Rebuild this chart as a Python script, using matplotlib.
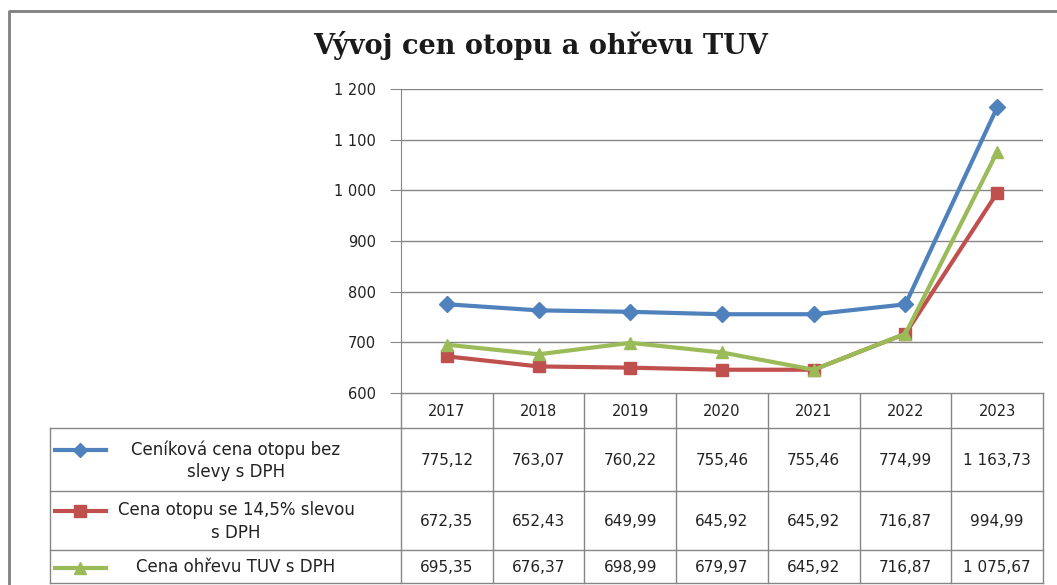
import matplotlib
matplotlib.use("Agg")
import matplotlib.pyplot as plt
from matplotlib.ticker import FuncFormatter
from matplotlib.lines import Line2D

# data
years = ["2017", "2018", "2019", "2020", "2021", "2022", "2023"]
cenik = [775.12, 763.07, 760.22, 755.46, 755.46, 774.99, 1163.73]
sleva = [672.35, 652.43, 649.99, 645.92, 645.92, 716.87, 994.99]
tuv = [695.35, 676.37, 698.99, 679.97, 645.92, 716.87, 1075.67]
labels = ["Ceníková cena otopu bez\nslevy s DPH",
          "Cena otopu se 14,5% slevou\ns DPH",
          "Cena ohřevu TUV s DPH"]
colors = ["#4F81BD", "#C0504D", "#9BBB59"]
markers = ["D", "s", "^"]
msizes = [8, 9, 9]

W, H = 1057, 585
fig = plt.figure(figsize=(W / 100, H / 100), dpi=100)
plt.rcParams['font.family'] = ['DejaVu Sans']

# plot area in pixel terms
ax_l, ax_r, ax_t, ax_b = 401, 1043, 89, 393
ax = fig.add_axes([ax_l / W, 1 - ax_b / H, (ax_r - ax_l) / W, (ax_b - ax_t) / H])

def fmt(v, pos=None):
    s = f"{int(round(v)):,}".replace(",", " ")
    return s

def fmt2(v):
    s = f"{v:,.2f}"
    s = s.replace(",", " ").replace(".", ",")
    return s

x = list(range(len(years)))
for vals, c, m, ms in zip([cenik, sleva, tuv], colors, markers, msizes):
    ax.plot(x, vals, color=c, lw=3, marker=m, ms=ms, zorder=3)

ax.set_xlim(-0.5, len(years) - 0.5)
ax.set_ylim(600, 1200)
ax.set_yticks(range(600, 1201, 100))
ax.yaxis.set_major_formatter(FuncFormatter(fmt))
ax.set_xticks([])
ax.grid(axis="y", color="#868686", lw=1)
for s in ["top", "right", "bottom"]:
    ax.spines[s].set_visible(False)
ax.spines["left"].set_color("#868686")
ax.tick_params(axis="y", length=8, color="#868686", labelsize=10.5, labelcolor="#222222", pad=10)

# overlay in pixel coordinates for the data table
ov = fig.add_axes([0, 0, 1, 1], zorder=-1)
ov.set_xlim(0, W)
ov.set_ylim(H, 0)
ov.axis("off")

# outer chart frame
ov.plot([9, 9, W + 5], [H + 5, 11, 11], color="#7f7f7f", lw=2)

col_edges = [ax_l + (ax_r - ax_l) * i / len(years) for i in range(len(years) + 1)]
row_edges = [ax_b, 428, 491, 550, 583]
tab_left = 50
gc = "#868686"

# horizontal lines
ov.plot([ax_l, ax_r], [ax_b, ax_b], color=gc, lw=1)
for y in row_edges[1:]:
    ov.plot([tab_left, ax_r], [y, y], color=gc, lw=1)
# vertical lines
for xe in col_edges:
    ov.plot([xe, xe], [ax_b, row_edges[-1]], color=gc, lw=1)
ov.plot([tab_left, tab_left], [row_edges[1], row_edges[-1]], color=gc, lw=1)

# year header
for i, yr in enumerate(years):
    cx = (col_edges[i] + col_edges[i + 1]) / 2
    ov.text(cx, (row_edges[0] + row_edges[1]) / 2 + 1, yr, ha="center", va="center",
            fontsize=10.5, color="#222222")

# series rows
for r, (vals, lab, c, m, ms) in enumerate(zip([cenik, sleva, tuv], labels, colors, markers, msizes)):
    cy = (row_edges[r + 1] + row_edges[r + 2]) / 2 + 1
    ky = cy - (11 if "\n" in lab else 0)
    ov.add_line(Line2D([55, 106], [ky, ky], color=c, lw=3))
    ov.plot([80], [ky], marker=m, color=c, ms=ms - 1)
    ov.text(236, cy, lab, ha="center", va="center", fontsize=12, color="#222222",
            linespacing=1.3)
    for i, v in enumerate(vals):
        cx = (col_edges[i] + col_edges[i + 1]) / 2
        ov.text(cx, cy, fmt2(v), ha="center", va="center", fontsize=11, color="#222222")

fig.text(541 / W, 1 - 45 / H, "Vývoj cen otopu a ohřevu TUV", ha="center", va="center",
         fontsize=19.5, fontweight="bold", family="DejaVu Serif", color="#1a1a1a")

fig.savefig("out.png", dpi=100, facecolor="white")
